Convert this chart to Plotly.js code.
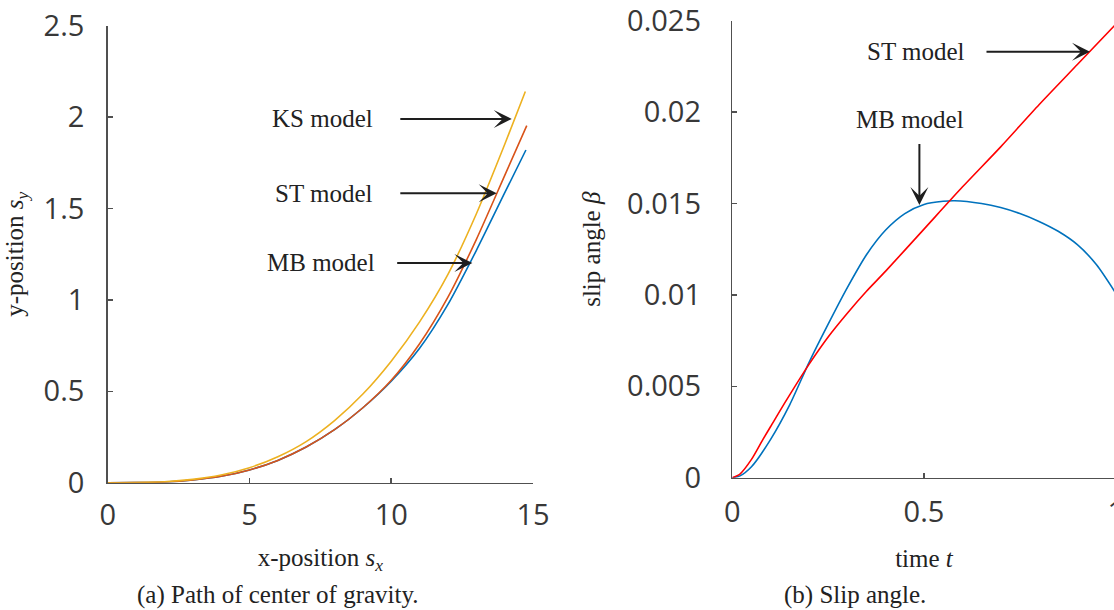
<!DOCTYPE html>
<html>
<head>
<meta charset="utf-8">
<script src="https://cdn.plot.ly/plotly-3.0.1.min.js"></script>
<style>
html,body{margin:0;padding:0;overflow:hidden;background:#fff;width:1114px;height:610px;}
#chart{width:1160px;height:610px;}
</style>
</head>
<body>
<div id="chart"></div>
<script>
// ---------- (a) Path of center of gravity ----------
const ksX = [0, 1, 2, 3, 4, 5, 6, 7, 8, 9, 10, 11, 12, 13, 14, 14.73];
const ksY = [0, 0.001, 0.005, 0.018, 0.042, 0.082, 0.142, 0.225, 0.34, 0.485, 0.665, 0.88, 1.14, 1.47, 1.85, 2.14];
const stX = [0, 1, 2, 3, 4, 5, 6, 7, 8, 9, 10, 11, 12, 13, 14, 14.78];
const stY = [0, 0.001, 0.004, 0.015, 0.035, 0.07, 0.122, 0.195, 0.29, 0.41, 0.56, 0.76, 1.015, 1.33, 1.68, 1.953];
const mbX = [0, 1, 2, 3, 4, 5, 6, 7, 8, 9, 10, 11, 12, 13, 14, 14.75];
const mbY = [0, 0.001, 0.004, 0.015, 0.035, 0.07, 0.122, 0.195, 0.29, 0.41, 0.555, 0.735, 0.975, 1.27, 1.585, 1.82];

// ---------- (b) Slip angle ----------
const tST = [0, 0.02, 0.05, 0.08, 0.1, 0.14, 0.2, 0.25, 0.3, 0.35, 0.4, 0.5, 0.6, 0.7, 0.8, 0.9, 1.0];
const betaST = [0, 0.0002, 0.001, 0.0021, 0.0028, 0.0042, 0.0062, 0.0077, 0.009, 0.0102, 0.0113, 0.0136, 0.0159, 0.0181, 0.0204, 0.0226, 0.0248];
const tMB = [0, 0.02, 0.05, 0.1, 0.15, 0.2, 0.25, 0.3, 0.35, 0.4, 0.45, 0.5, 0.55, 0.58, 0.65, 0.7, 0.75, 0.8, 0.85, 0.9, 0.95, 1.0];
const betaMB = [0, 0.0001, 0.0006, 0.0021, 0.004, 0.0063, 0.0084, 0.0104, 0.0122, 0.01355, 0.01445, 0.01495, 0.01512, 0.01515, 0.015, 0.01478, 0.01445, 0.01402, 0.01348, 0.01275, 0.01165, 0.0101];

const leftXTicks = [0, 5, 10, 15];
const leftYTicks = [0, 0.5, 1, 1.5, 2, 2.5];
const rightXTicks = [0, 0.5, 1];
const rightYTicks = [0, 0.005, 0.01, 0.015, 0.02, 0.025];
const rightYTickText = ['0', '0.005', '0.01', '0.015', '0.02', '0.025'];

const W = 1160, H = 610;
const axisCol = '#505050';
const tickFont = {family: 'Open Sans, sans-serif', size: 29, color: '#383838'};
const serif = {family: 'Liberation Serif, serif', size: 25, color: '#222222'};
const arrowCol = '#1e1e1e';

function axisBase() {
  return {
    showgrid: false, zeroline: false, showline: true, linecolor: axisCol, linewidth: 1.5,
    ticks: 'inside', ticklen: 5, tickwidth: 1.5, tickcolor: axisCol,
    tickfont: tickFont, automargin: false, fixedrange: true, mirror: false,
    ticklabeloverflow: 'allow'
  };
}

function lineStyle(c) { return {color: c, width: 1.6, shape: 'spline', smoothing: 0.7}; }

const traces = [
  {x: mbX, y: mbY, xaxis: 'x', yaxis: 'y', mode: 'lines', line: lineStyle('#0072BD'), name: 'MB model'},
  {x: stX, y: stY, xaxis: 'x', yaxis: 'y', mode: 'lines', line: lineStyle('#D95319'), name: 'ST model'},
  {x: ksX, y: ksY, xaxis: 'x', yaxis: 'y', mode: 'lines', line: lineStyle('#EDB120'), name: 'KS model'},
  {x: tMB, y: betaMB, xaxis: 'x2', yaxis: 'y2', mode: 'lines', line: lineStyle('#0072BD'), name: 'MB model'},
  {x: tST, y: betaST, xaxis: 'x2', yaxis: 'y2', mode: 'lines', line: lineStyle('#FF0000'), name: 'ST model'}
];

function labelArrow(xr, yr, text, tipX, tipY, tailX, tailY, extra) {
  return Object.assign({
    xref: xr, yref: yr, axref: xr, ayref: yr,
    x: tipX, y: tipY, ax: tailX, ay: tailY,
    text: text, font: serif, showarrow: true,
    arrowhead: 3, arrowsize: 1.5, arrowwidth: 2, arrowcolor: arrowCol, standoff: 0, startstandoff: 0
  }, extra);
}

const layout = {
  width: W, height: H,
  margin: {l: 0, r: 0, t: 0, b: 0},
  paper_bgcolor: '#ffffff', plot_bgcolor: '#ffffff',
  showlegend: false,
  xaxis: Object.assign(axisBase(), {
    domain: [107.7 / W, 533 / W], range: [0, 15], tickvals: leftXTicks, anchor: 'y',
    ticklabelstandoff: 6,
    title: {text: 'x-position <i>s</i><sub><i>x</i></sub>', font: serif, standoff: 16}
  }),
  yaxis: Object.assign(axisBase(), {
    domain: [(H - 482.7) / H, (H - 25.7) / H], range: [0, 2.5], tickvals: leftYTicks, anchor: 'x',
    ticklabelstandoff: 16,
    title: {text: 'y-position <i>s</i><sub><i>y</i></sub>', font: serif, standoff: 13}
  }),
  xaxis2: Object.assign(axisBase(), {
    domain: [732.3 / W, 1115.7 / W], range: [0, 1], tickvals: rightXTicks, anchor: 'y2',
    ticklabelstandoff: 8,
    title: {text: 'time <i>t</i>', font: serif, standoff: 20}
  }),
  yaxis2: Object.assign(axisBase(), {
    domain: [(H - 477.7) / H, (H - 20.7) / H], range: [0, 0.025], tickvals: rightYTicks, ticktext: rightYTickText, anchor: 'x2',
    ticklabelstandoff: 24,
    title: {text: 'slip angle <i>β</i>', font: serif, standoff: 19}
  }),
  annotations: [
    // left panel: labels with arrows
    labelArrow('x', 'y', 'KS model', 14.25, 1.99, 10.32, 1.99, {xanchor: 'right', yanchor: 'middle', borderpad: 26}),
    labelArrow('x', 'y', 'ST model', 13.72, 1.583, 10.32, 1.583, {xanchor: 'right', yanchor: 'middle', borderpad: 26}),
    labelArrow('x', 'y', 'MB model', 12.86, 1.202, 10.21, 1.202, {xanchor: 'right', yanchor: 'middle', borderpad: 21}),
    // right panel
    labelArrow('x2', 'y2', 'ST model', 0.933, 0.0233, 0.663, 0.0233, {xanchor: 'right', yanchor: 'middle', borderpad: 20}),
    labelArrow('x2', 'y2', 'MB model&nbsp;&nbsp;&nbsp;', 0.488, 0.01492, 0.488, 0.01826, {xanchor: 'center', yanchor: 'bottom', borderpad: 10}),
    // captions
    {xref: 'paper', yref: 'paper', x: 278 / W, y: (H - 595) / H, text: '(a) Path of center of gravity.', showarrow: false, xanchor: 'center', yanchor: 'middle', font: serif},
    {xref: 'paper', yref: 'paper', x: 855 / W, y: (H - 595) / H, text: '(b) Slip angle.', showarrow: false, xanchor: 'center', yanchor: 'middle', font: serif}
  ]
};

Plotly.newPlot('chart', traces, layout, {staticPlot: true, displayModeBar: false});
</script>
</body>
</html>
